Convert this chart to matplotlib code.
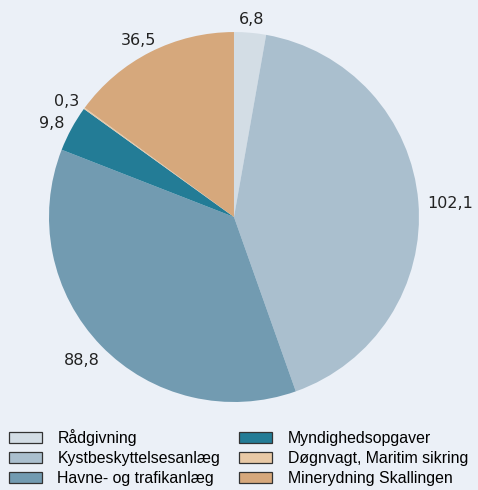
import numpy as np
import matplotlib.pyplot as plt
from matplotlib.patches import Patch
from matplotlib.transforms import offset_copy

categories = ["Rådgivning", "Kystbeskyttelsesanlæg", "Havne- og trafikanlæg",
              "Myndighedsopgaver", "Døgnvagt, Maritim sikring", "Minerydning Skallingen"]
values = [6.8, 102.1, 88.8, 9.8, 0.3, 36.5]
value_labels = ["6,8", "102,1", "88,8", "9,8", "0,3", "36,5"]
colors = ["#d3dde5", "#aabfce", "#729bb1", "#237c96", "#e8c9a6", "#d6a87c"]

bg = "#ebf0f7"
plt.rcParams["font.family"] = ["Liberation Sans", "DejaVu Sans"]

fig = plt.figure(figsize=(4.78, 4.90), dpi=100, facecolor=bg)
ax = fig.add_axes([0.1025, 0.1796, 0.774, 0.755])
ax.set_facecolor(bg)

wedges, _ = ax.pie(
    values,
    colors=colors,
    startangle=90,
    counterclock=False,
    wedgeprops={"linewidth": 0},
)
ax.set_xlim(-1, 1)
ax.set_ylim(-1, 1)
ax.set_aspect("equal")

# value labels: anchored just outside the rim, pushed out by half the text box
renderer = fig.canvas.get_renderer()
for w, lab in zip(wedges, value_labels):
    ang = np.radians((w.theta1 + w.theta2) / 2)
    c, s = np.cos(ang), np.sin(ang)
    t = ax.text(1.05 * c, 1.05 * s, lab, ha="center", va="center",
                fontsize=11.5, color="#222222", family="DejaVu Sans")
    bb = t.get_window_extent(renderer)
    t.set_transform(offset_copy(ax.transData, fig,
                                x=c * bb.width / 2, y=s * bb.height / 2 - 3, units="dots"))

handles = [Patch(facecolor=c, edgecolor="#333333", linewidth=0.9) for c in colors]
fig.legend(
    handles, categories,
    loc="upper left", bbox_to_anchor=(0.019, 0.124),
    ncol=2, frameon=False, fontsize=11.4,
    handlelength=2.05, handleheight=0.72,
    handletextpad=1.0, columnspacing=1.2,
    labelspacing=0.3, borderaxespad=0, borderpad=0,
)

fig.savefig("out.png", dpi=100, facecolor=bg)
